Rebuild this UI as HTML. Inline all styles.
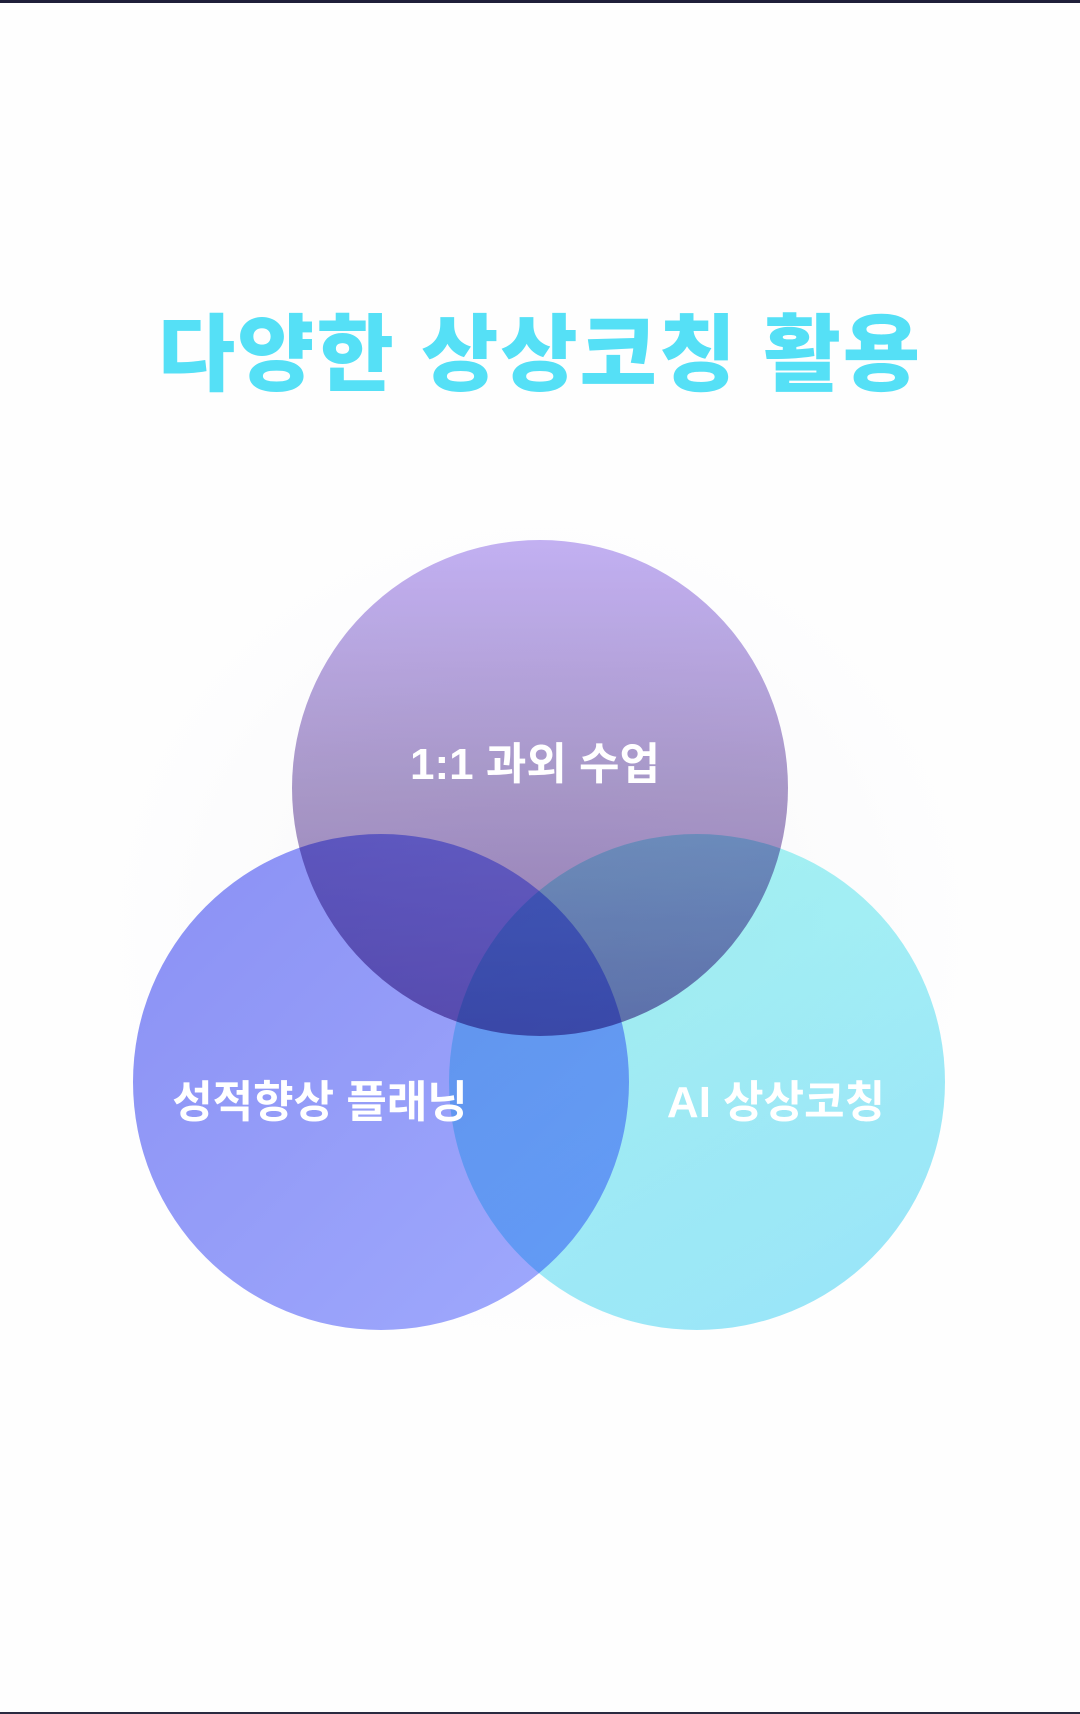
<!DOCTYPE html>
<html><head><meta charset="utf-8"><style>
html,body{margin:0;padding:0;}
body{width:1080px;height:1714px;background:#fefefe;position:relative;overflow:hidden;font-family:"Liberation Sans","Noto Sans CJK KR",sans-serif;}
.topbar{position:absolute;left:0;top:0;width:1080px;height:3px;background:#1f1f3a;}
.botbar{position:absolute;left:0;top:1712px;width:1080px;height:2px;background:#2a2a40;}
.title{position:absolute;left:0;width:1080px;top:303px;text-align:center;font-size:84px;font-weight:900;color:#55e0f6;line-height:104px;letter-spacing:2px;}
.glow{position:absolute;left:80px;top:490px;width:920px;height:880px;border-radius:50%;background:radial-gradient(closest-side,rgba(240,240,245,0.5),rgba(250,250,252,0.3) 80%,rgba(255,255,255,0));}
.c{position:absolute;width:496px;height:496px;border-radius:50%;}
.left{left:133px;top:834px;background:linear-gradient(135deg,#8a90f4,#a0aafd);}
.right{left:449px;top:834px;background:linear-gradient(150deg,#a0f9f2,#8ae0fa);mix-blend-mode:multiply;opacity:0.88;}
.top{left:292px;top:540px;background:linear-gradient(180deg,#bca7f2,#9f8cc3 50%,#8566a8);mix-blend-mode:multiply;opacity:0.88;}
.lbl{position:absolute;color:#fff;font-weight:700;font-size:44px;white-space:nowrap;transform:translate(-50%,-50%);}
</style></head><body>
<div class="topbar"></div>
<div class="title">다양한 상상코칭 활용</div>
<div class="glow"></div>
<div class="c left"></div>
<div class="c right"></div>
<div class="c top"></div>
<div class="lbl" style="left:535px;top:760px;">1:1 과외 수업</div>
<div class="lbl" style="left:320px;top:1098px;">성적향상 플래닝</div>
<div class="lbl" style="left:776px;top:1098px;">AI 상상코칭</div>
<div class="botbar"></div>
</body></html>
